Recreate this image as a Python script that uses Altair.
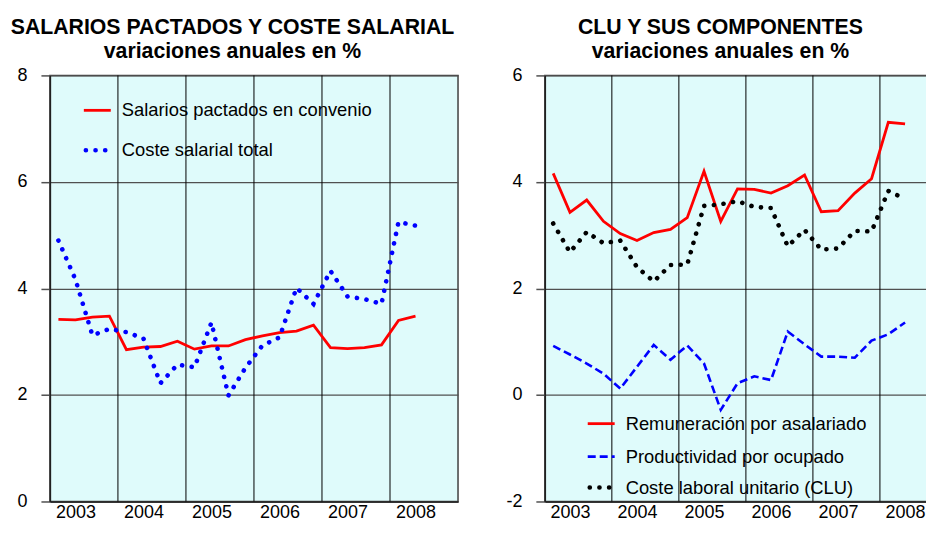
import altair as alt
import pandas as pd

# ---------------- data ----------------
years = [2003, 2004, 2005, 2006, 2007, 2008]
quarter_labels = [f"{y}-T{q}" for y in years for q in (1, 2, 3, 4)][:22]

salarios_pactados = [3.42, 3.41, 3.46, 3.48, 2.85, 2.90, 2.91, 3.01, 2.86, 2.92, 2.92,
                     3.04, 3.11, 3.17, 3.20, 3.31, 2.89, 2.87, 2.89, 2.94, 3.40, 3.48]
coste_salarial = [4.90, 4.17, 3.12, 3.24, 3.18, 3.06, 2.22, 2.57, 2.52, 3.36, 1.99,
                  2.51, 2.93, 3.08, 4.01, 3.71, 4.33, 3.85, 3.80, 3.71, 5.25, 5.18]
remuneracion = [4.16, 3.43, 3.66, 3.26, 3.03, 2.90, 3.05, 3.11, 3.33, 4.20, 3.26,
                3.87, 3.86, 3.79, 3.93, 4.13, 3.44, 3.46, 3.79, 4.06, 5.12, 5.09]
productividad = [0.92, 0.76, 0.59, 0.40, 0.12, 0.53, 0.94, 0.66, 0.93, 0.59, -0.28,
                 0.22, 0.35, 0.28, 1.19, 0.95, 0.72, 0.72, 0.70, 1.02, 1.14, 1.36]
clu = [3.22, 2.68, 3.06, 2.85, 2.90, 2.40, 2.13, 2.44, 2.45, 3.55, 3.58,
       3.64, 3.53, 3.51, 2.79, 3.10, 2.73, 2.75, 3.08, 3.07, 3.83, 3.68]

left_title = "SALARIOS PACTADOS Y COSTE SALARIAL"
right_title = "CLU Y SUS COMPONENTES"
subtitle = "variaciones anuales en %"
left_legend = ["Salarios pactados en convenio", "Coste salarial total"]
right_legend = ["Remuneración por asalariado", "Productividad por ocupado",
                "Coste laboral unitario (CLU)"]
left_ticks = [0, 2, 4, 6, 8]
right_ticks = [-2, 0, 2, 4, 6]


# quarter position on a continuous time axis (middle of each quarter)
def qpos(label):
    y, q = label.split("-T")
    return int(y) + (int(q) - 1) / 4 + 0.125


df = pd.DataFrame({
    "trimestre": quarter_labels,
    "t": [qpos(l) for l in quarter_labels],
    "salarios": salarios_pactados,
    "coste": coste_salarial,
    "remun": remuneracion,
    "prod": productividad,
    "clu": clu,
})
sep_df = pd.DataFrame({"year": years[1:]})
leg_l = pd.DataFrame({"label": left_legend, "row": [0, 1]})
leg_r = pd.DataFrame({"label": right_legend, "row": [0, 1, 2]})

FONT = "Liberation Sans"
RED = "#FF0000"
BLUE = "#0000FF"
BLACK = "#000000"
H = 427

xaxis = alt.Axis(values=[y + 0.375 for y in years], labelExpr="floor(datum.value)",
                 title=None, grid=False, ticks=False, labelPadding=2,
                 labelFlush=False, labelOverlap=False)


def yaxis(ticks):
    return alt.Axis(values=ticks, title=None, grid=True, tickSize=9, labelPadding=14,
                    labelExpr="datum.value")


def panel(width, ydom, ticks, series, legend_df, leg_x, leg_rows, title, tdx):
    xscale = alt.Scale(domain=[2003, 2009], nice=False, zero=False)
    base = alt.Chart(df)
    x = alt.X("t:Q", scale=xscale, axis=xaxis)
    layers = [
        alt.Chart(sep_df).mark_rule(color="#000000", strokeWidth=1).encode(
            x=alt.X("year:Q", scale=xscale, axis=xaxis)),
    ]
    for field, color, dash, sw, cap in series:
        kw = dict(color=color, strokeWidth=sw, strokeCap=cap)
        if dash:
            kw["strokeDash"] = dash
        layers.append(base.mark_line(**kw).encode(
            x=x,
            y=alt.Y(f"{field}:Q", scale=alt.Scale(domain=ydom, nice=False, zero=False),
                    axis=yaxis(ticks))))
    # manual legend (sample + label), placed in pixels inside the plot
    for i, (field, color, dash, sw, cap) in enumerate(series):
        yy = leg_rows[i]
        kw = dict(color=color, strokeWidth=sw, strokeCap=cap)
        if dash:
            kw["strokeDash"] = dash
        x0, x1 = (leg_x - 36, leg_x - 12) if dash and dash[0] < 1 else (leg_x - 38, leg_x - 11)
        layers.append(alt.Chart(legend_df).mark_rule(**kw).encode(
            x=alt.value(x0), x2=alt.value(x1), y=alt.value(yy)
        ).transform_filter(alt.datum.row == i))
        layers.append(alt.Chart(legend_df).mark_text(
            align="left", baseline="middle", font=FONT, fontSize=18.4, color="#000000"
        ).encode(x=alt.value(leg_x), y=alt.value(yy), text="label:N"
                 ).transform_filter(alt.datum.row == i))
    return alt.layer(*layers).properties(
        width=width, height=H,
        title=alt.TitleParams(text=title, subtitle=subtitle, anchor="middle",
                              frame="bounds", dx=tdx))


left = panel(409, [0, 8], left_ticks,
             [("salarios", RED, None, 2.8, "butt"),
              ("coste", BLUE, [0.1, 9.6], 4.6, "round")],
             leg_l, 72, [35, 75], left_title, -5)
right = panel(403, [-2, 6], right_ticks,
              [("remun", RED, None, 2.8, "butt"),
               ("prod", BLUE, [8, 4], 2.6, "butt"),
               ("clu", BLACK, [0.1, 9.6], 4.6, "round")],
              leg_r, 81, [349, 382, 413], right_title, -6)

chart = alt.hconcat(left, right, spacing=46).properties(
    padding={"left": 1, "top": 7, "right": -22, "bottom": -2}
).configure_view(
    fill="#DFFBFB", stroke="#404040", strokeWidth=1.5
).configure_axis(
    labelFont=FONT, labelFontSize=18, labelColor="#000000",
    domainColor="#202020", domainWidth=1.5,
    gridColor="#505050", gridWidth=1.3, tickColor="#505050", tickWidth=1.5,
).configure_title(
    font=FONT, fontSize=21.3, fontWeight="bold", color="#000000",
    subtitleFont=FONT, subtitleFontSize=21.3, subtitleFontWeight="bold",
    subtitleColor="#000000", subtitlePadding=3, offset=4,
)

chart.save("out.html", embed_options={"renderer": "svg", "actions": False})
